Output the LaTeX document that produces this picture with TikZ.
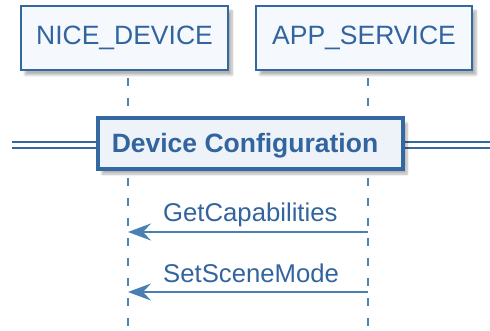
\documentclass[tikz,border=0pt]{standalone}
\usepackage{fontspec}
\setmainfont{Liberation Sans}
\usetikzlibrary{arrows.meta,shadows.blur}
\definecolor{bordc}{RGB}{52,104,160}
\definecolor{txtc}{RGB}{50,100,158}
\definecolor{arrc}{RGB}{72,128,180}
\definecolor{linec}{RGB}{80,132,182}
\definecolor{fillc}{RGB}{245,248,252}
\definecolor{divfill}{RGB}{238,243,249}
\tikzset{
  partbox/.style={draw=bordc, line width=2.4pt, fill=fillc, minimum width=207pt, minimum height=64pt,
    inner sep=0pt, text=txtc, font=\fontsize{26.5}{28}\selectfont,
    blur shadow={shadow xshift=4pt, shadow yshift=-5pt, shadow opacity=30, shadow blur steps=8}},
  divbox/.style={draw=bordc, line width=3.4pt, fill=divfill, minimum width=305pt, minimum height=51pt, inner sep=0pt,
    blur shadow={shadow xshift=4pt, shadow yshift=-5pt, shadow opacity=30, shadow blur steps=8}},
  divtext/.style={text=txtc, font=\bfseries\fontsize{26.5}{28}\selectfont, inner sep=0pt},
  lifeline/.style={draw=linec, line width=2pt, dash pattern=on 8pt off 12pt},
  dblline/.style={draw=bordc, line width=2pt},
  msg/.style={draw=arrc, line width=2pt, -{Stealth[length=23pt, width=17pt, inset=8pt]}},
  msglabel/.style={text=txtc, font=\fontsize{25.7}{28}\selectfont, inner sep=0pt, anchor=base west}
}
\begin{document}
\begin{tikzpicture}[x=1pt,y=-1pt]
\useasboundingbox (0,0) rectangle (490,331);
% lifelines
\coordinate (l1top) at (128,78);
\coordinate (l1bot) at (128,331);
\coordinate (l2top) at (368,78);
\coordinate (l2bot) at (368,331);
\draw[lifeline] (l1top) -- (l1bot);
\draw[lifeline] (l2top) -- (l2bot);
% participants
\node[partbox] (dev) at (124.5,38) {\raisebox{-2pt}{NICE\_DEVICE}};
\node[partbox, minimum width=216pt] (app) at (364,38) {\raisebox{-2pt}{APP\_SERVICE}};
% divider
\coordinate (dl1) at (12,142);
\coordinate (dl2) at (12,148);
\coordinate (dr1) at (490,142);
\coordinate (dr2) at (490,148);
\draw[dblline] (dl1) -- (dr1);
\draw[dblline] (dl2) -- (dr2);
\node[divbox] (div) at (250.5,143.5) {};
\node[divtext] (divt) at (245,146) {Device Configuration};
% messages
\coordinate (m1s) at (368,232);
\coordinate (m1e) at (128,232);
\coordinate (m2s) at (368,292);
\coordinate (m2e) at (128,292);
\draw[msg] (m1s) -- (m1e);
\draw[msg] (m2s) -- (m2e);
\node[msglabel] (lab1) at (163,222) {GetCapabilities};
\node[msglabel] (lab2) at (163,283) {SetSceneMode};
\end{tikzpicture}
\end{document}
